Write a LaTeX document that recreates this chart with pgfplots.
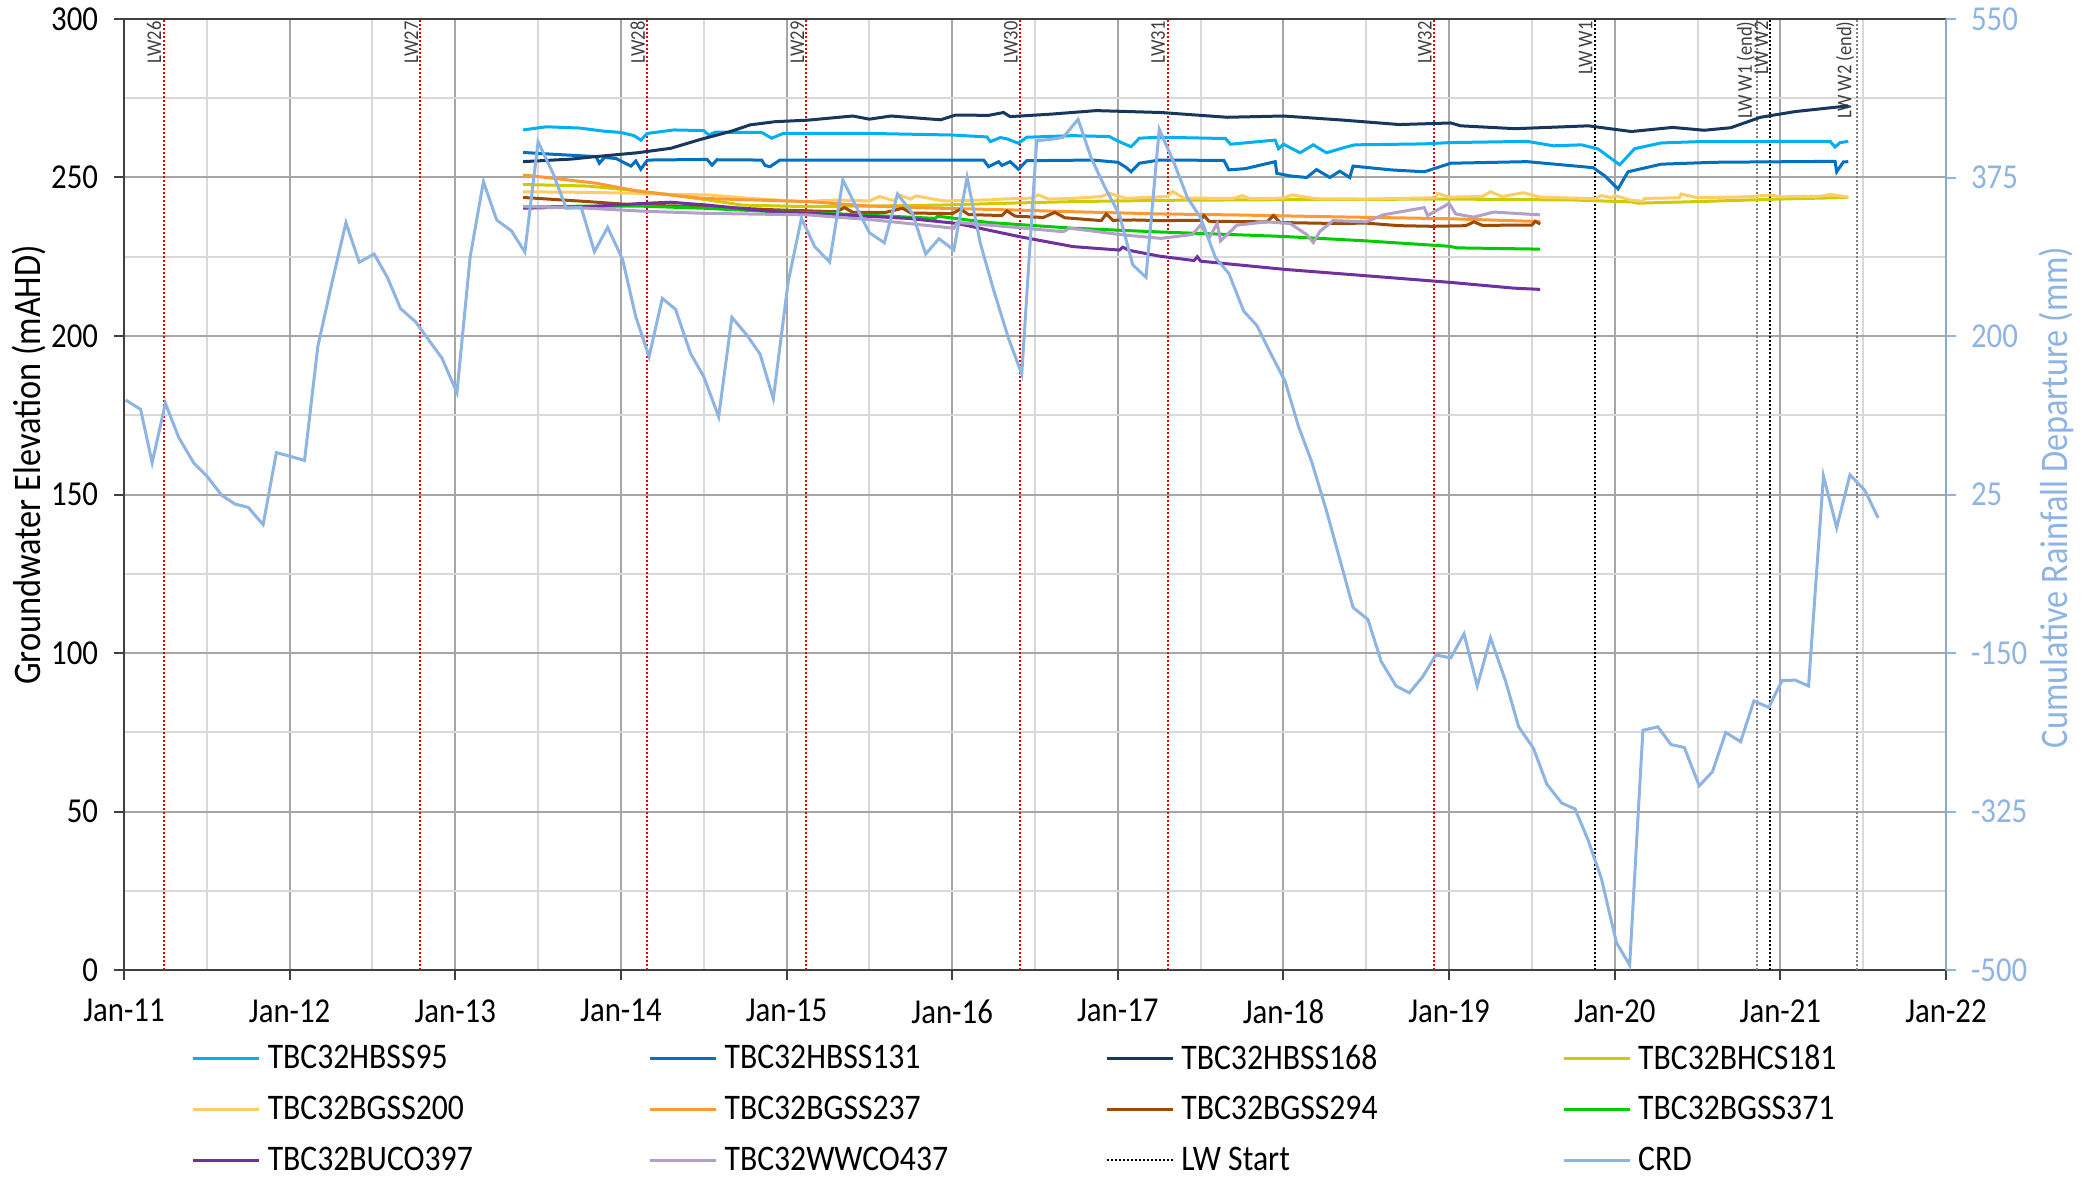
\documentclass[border=0pt]{standalone}
\usepackage{fontspec}
\setmainfont{Carlito}[FakeStretch=0.88]
\usepackage{pgfplots}
\pgfplotsset{compat=1.18}
\definecolor{cHBSSa}{HTML}{00B0F0}
\definecolor{cHBSSb}{HTML}{0070C0}
\definecolor{cHBSSc}{HTML}{17375E}
\definecolor{cBHCS}{HTML}{CCCC00}
\definecolor{cBGSSa}{HTML}{FFCC66}
\definecolor{cBGSSb}{HTML}{FF9933}
\definecolor{cBGSSc}{HTML}{9C4A06}
\definecolor{cBGSSd}{HTML}{00CC00}
\definecolor{cBUCO}{HTML}{7030A0}
\definecolor{cWWCO}{HTML}{B1A0C7}
\definecolor{crd}{HTML}{8DB4E2}
\definecolor{gridmaj}{HTML}{A6A6A6}
\definecolor{gridmin}{HTML}{D9D9D9}
\definecolor{axisdark}{HTML}{404040}
\definecolor{rightax}{HTML}{8EA9C8}
\definecolor{lwred}{HTML}{E00000}
\newcommand{\legtxt}[1]{\makebox[188.4pt][l]{#1}}
\begin{document}
\begin{tikzpicture}
\begin{axis}[
  at={(0,0)}, anchor=south west,
  scale only axis, width=911pt, height=475.5pt,
  xmin=2011, xmax=2022, ymin=0, ymax=300,
  xtick={2011,2012,2013,2014,2015,2016,2017,2018,2019,2020,2021,2022},
  xticklabels={Jan-11,Jan-12,Jan-13,Jan-14,Jan-15,Jan-16,Jan-17,Jan-18,Jan-19,Jan-20,Jan-21,Jan-22},
  minor xtick={2011.5,2012.5,2013.5,2014.5,2015.5,2016.5,2017.5,2018.5,2019.5,2020.5,2021.5},
  ytick={0,50,100,150,200,250,300},
  minor ytick={25,75,125,175,225,275},
  grid=both,
  major grid style={draw=gridmaj, line width=1pt},
  minor grid style={draw=gridmin, line width=1pt},
  tick align=outside, tick pos=left,
  major tick length=5pt, minor tick length=0pt,
  every tick/.style={draw=axisdark, line width=1pt},
  axis line style={draw=axisdark, line width=1.2pt},
  /pgf/number format/assume math mode=true,
  ticklabel style={font=\fontsize{17.5}{20}\selectfont, text=black},
  yticklabel style={xshift=-4.5pt},
  xticklabel style={yshift=-6.2pt},
  ylabel={Groundwater Elevation (mAHD)},
  ylabel style={at={(axis description cs:-0.0521,0.531)}, anchor=center, font=\fontsize{19.5}{22}\selectfont, text=black},
  legend columns=4,
  legend image code/.code={\draw[#1] (0pt,0pt) -- (33pt,0pt);},
  legend style={at={(axis description cs:0.0370,-0.0741)}, anchor=north west,
    draw=none, fill=none, inner sep=0pt,
    font=\fontsize{18}{20}\selectfont, row sep=8pt,
    /tikz/every odd column/.append style={column sep=1.5pt},
    /tikz/every even column/.append style={column sep=0pt}},
  legend cell align=left,
]
% LW start lines
\addplot[forget plot, lwred, line width=1pt, dash pattern=on 1pt off 1pt] coordinates {(2011.24,0) (2011.24,300)};
\addplot[forget plot, lwred, line width=1pt, dash pattern=on 1pt off 1pt] coordinates {(2012.79,0) (2012.79,300)};
\addplot[forget plot, lwred, line width=1pt, dash pattern=on 1pt off 1pt] coordinates {(2014.16,0) (2014.16,300)};
\addplot[forget plot, lwred, line width=1pt, dash pattern=on 1pt off 1pt] coordinates {(2015.12,0) (2015.12,300)};
\addplot[forget plot, lwred, line width=1pt, dash pattern=on 1pt off 1pt] coordinates {(2016.41,0) (2016.41,300)};
\addplot[forget plot, lwred, line width=1pt, dash pattern=on 1pt off 1pt] coordinates {(2017.30,0) (2017.30,300)};
\addplot[forget plot, lwred, line width=1pt, dash pattern=on 1pt off 1pt] coordinates {(2018.91,0) (2018.91,300)};
\addplot[forget plot, black, line width=1pt, dash pattern=on 1pt off 1pt] coordinates {(2019.88,0) (2019.88,300)};
\addplot[forget plot, gray, line width=1pt, dash pattern=on 1pt off 1pt] coordinates {(2020.86,0) (2020.86,300)};
\addplot[forget plot, black, line width=1pt, dash pattern=on 1pt off 1pt] coordinates {(2020.94,0) (2020.94,300)};
\addplot[forget plot, gray, line width=1pt, dash pattern=on 1pt off 1pt] coordinates {(2021.46,0) (2021.46,300)};
\begin{scope}[every node/.style={rotate=90, anchor=south east, inner sep=1pt, font=\fontsize{10.5}{12}\selectfont, text=axisdark}]
\node at (axis cs:2011.24,300) {LW26};
\node at (axis cs:2012.79,300) {LW27};
\node at (axis cs:2014.16,300) {LW28};
\node at (axis cs:2015.12,300) {LW29};
\node at (axis cs:2016.41,300) {LW30};
\node at (axis cs:2017.30,300) {LW31};
\node at (axis cs:2018.91,300) {LW32};
\node at (axis cs:2019.88,300) {LW W1};
\node at (axis cs:2020.86,300) {LW W1 (end)};
\node at (axis cs:2020.94,300) {LW W2};
\node at (axis cs:2021.46,300) {LW W2 (end)};
\end{scope}
% TBC32HBSS95
\addplot[cHBSSa, line width=1.5pt] coordinates {
(2013.41,265.0) (2013.55,266.0) (2013.75,265.6) (2013.90,264.6) (2014.00,264.2) (2014.08,263.2) (2014.12,261.8) (2014.16,263.9) (2014.32,265.0) (2014.50,264.8) (2014.53,263.4) (2014.57,264.3) (2014.85,264.2) (2014.91,262.4) (2014.98,263.9) (2015.50,263.9) (2016.00,263.4) (2016.21,262.8) (2016.23,261.3) (2016.29,262.6) (2016.33,262.2) (2016.40,260.8) (2016.45,262.7) (2016.73,263.2) (2016.95,262.9) (2017.00,261.5) (2017.08,259.7) (2017.13,262.4) (2017.25,262.7) (2017.65,262.3) (2017.68,260.5) (2017.95,261.8) (2017.97,259.1) (2018.00,260.5) (2018.10,257.8) (2018.18,260.3) (2018.26,257.8) (2018.37,259.5) (2018.43,260.3) (2018.85,260.6) (2019.00,261.0) (2019.47,261.4) (2019.63,260.0) (2019.80,260.3) (2019.90,259.0) (2020.03,254.0) (2020.12,259.1) (2020.28,260.9) (2020.50,261.3) (2021.30,261.4) (2021.33,259.6) (2021.36,261.0) (2021.41,261.4)};
\addlegendentry{\legtxt{TBC32HBSS95}}
% TBC32HBSS131
\addplot[cHBSSb, line width=1.5pt] coordinates {
(2013.41,257.9) (2013.60,257.3) (2013.85,256.6) (2013.87,254.5) (2013.90,256.3) (2013.97,256.0) (2014.06,253.6) (2014.09,255.2) (2014.12,252.6) (2014.16,255.5) (2014.52,255.7) (2014.55,253.9) (2014.58,255.6) (2014.85,255.5) (2014.87,253.8) (2014.90,253.4) (2014.96,255.5) (2016.19,255.5) (2016.22,253.4) (2016.28,255.0) (2016.30,253.8) (2016.35,255.0) (2016.40,252.6) (2016.45,255.3) (2016.85,255.5) (2017.00,254.8) (2017.05,253.2) (2017.08,251.8) (2017.13,254.5) (2017.25,255.5) (2017.64,255.4) (2017.67,252.4) (2017.77,252.8) (2017.95,255.0) (2017.96,251.3) (2018.04,250.5) (2018.14,250.0) (2018.20,252.5) (2018.28,250.0) (2018.34,252.0) (2018.40,250.0) (2018.42,253.6) (2018.65,252.4) (2018.85,251.8) (2019.01,254.5) (2019.47,255.0) (2019.87,253.1) (2019.94,250.5) (2020.02,246.4) (2020.08,251.8) (2020.28,254.2) (2020.60,254.8) (2021.33,255.1) (2021.34,251.8) (2021.38,254.9) (2021.41,255.0)};
\addlegendentry{\legtxt{TBC32HBSS131}}
% TBC32HBSS168
\addplot[cHBSSc, line width=1.5pt] coordinates {
(2013.41,255.0) (2013.70,255.8) (2013.85,256.6) (2014.10,257.8) (2014.30,259.2) (2014.48,262.0) (2014.66,264.5) (2014.78,266.6) (2014.93,267.6) (2015.13,268.1) (2015.40,269.4) (2015.50,268.4) (2015.63,269.4) (2015.93,268.2) (2016.02,269.7) (2016.22,269.6) (2016.31,270.5) (2016.35,269.2) (2016.60,270.0) (2016.87,271.1) (2017.26,270.5) (2017.66,269.0) (2018.00,269.4) (2018.36,268.1) (2018.70,266.7) (2019.01,267.2) (2019.07,266.3) (2019.40,265.4) (2019.84,266.3) (2020.10,264.5) (2020.35,265.8) (2020.54,264.9) (2020.70,265.7) (2020.88,269.0) (2021.09,270.8) (2021.41,272.6)};
\addlegendentry{\legtxt{TBC32HBSS168}}
% TBC32BHCS181
\addplot[cBHCS, line width=1.5pt] coordinates {
(2013.41,247.8) (2013.80,247.3) (2014.10,245.8) (2014.30,244.5) (2014.53,242.9) (2014.73,241.3) (2015.13,240.8) (2015.50,241.0) (2015.93,241.3) (2016.34,241.9) (2016.74,242.4) (2017.26,242.8) (2018.00,243.0) (2019.00,243.2) (2019.75,242.9) (2020.10,242.3) (2020.14,241.9) (2020.50,242.4) (2021.00,243.2) (2021.41,243.7)};
\addlegendentry{\legtxt{TBC32BHCS181}}
% TBC32BGSS200
\addplot[cBGSSa, line width=1.5pt] coordinates {
(2013.41,245.5) (2013.80,245.3) (2014.12,245.0) (2014.30,244.7) (2014.53,244.5) (2014.78,243.4) (2015.10,242.4) (2015.30,242.9) (2015.50,242.6) (2015.56,244.0) (2015.65,242.7) (2015.68,244.5) (2015.75,243.2) (2015.78,244.2) (2015.95,242.6) (2016.25,243.0) (2016.30,243.2) (2016.48,243.5) (2016.52,244.5) (2016.58,243.2) (2016.73,243.4) (2016.90,244.0) (2016.95,245.0) (2017.05,243.4) (2017.30,244.0) (2017.33,245.6) (2017.40,243.5) (2017.70,243.4) (2017.75,244.3) (2017.80,243.3) (2018.00,243.5) (2018.05,244.5) (2018.20,243.3) (2018.50,243.2) (2018.92,243.6) (2018.93,245.0) (2019.00,243.8) (2019.20,244.0) (2019.25,245.5) (2019.32,244.0) (2019.45,245.2) (2019.55,243.8) (2019.88,243.3) (2019.92,244.3) (2019.98,243.6) (2020.00,244.3) (2020.10,242.8) (2020.17,242.5) (2020.18,243.4) (2020.39,243.6) (2020.40,244.8) (2020.50,243.6) (2020.80,243.9) (2020.94,244.5) (2021.00,243.9) (2021.25,244.1) (2021.30,244.7) (2021.41,243.8)};
\addlegendentry{\legtxt{TBC32BGSS200}}
% TBC32BGSS237
\addplot[cBGSSb, line width=1.5pt] coordinates {
(2013.41,250.8) (2013.60,249.7) (2013.85,248.2) (2014.10,245.7) (2014.30,244.5) (2014.50,243.4) (2014.80,242.9) (2015.13,242.4) (2015.50,241.0) (2015.93,240.3) (2016.33,239.8) (2016.73,239.2) (2017.26,238.5) (2017.70,238.2) (2018.30,237.6) (2019.00,237.0) (2019.55,236.1)};
\addlegendentry{\legtxt{TBC32BGSS237}}
% TBC32BGSS294
\addplot[cBGSSc, line width=1.5pt] coordinates {
(2013.41,243.7) (2013.80,242.4) (2014.10,241.3) (2014.50,240.8) (2014.93,239.8) (2015.30,239.2) (2015.35,240.5) (2015.40,239.0) (2015.60,239.0) (2015.70,240.3) (2015.75,238.8) (2016.00,238.6) (2016.05,240.0) (2016.10,238.3) (2016.30,238.0) (2016.33,239.5) (2016.38,237.8) (2016.55,237.4) (2016.62,239.0) (2016.68,237.3) (2016.90,236.4) (2016.93,238.5) (2016.97,236.5) (2017.10,236.6) (2017.26,236.4) (2017.50,236.5) (2017.52,238.0) (2017.55,236.2) (2017.90,236.0) (2017.94,238.0) (2017.98,235.8) (2018.30,235.5) (2018.50,235.6) (2018.70,234.8) (2018.90,234.6) (2019.10,234.8) (2019.15,236.0) (2019.20,234.9) (2019.50,235.0) (2019.52,236.2) (2019.55,235.3)};
\addlegendentry{\legtxt{TBC32BGSS294}}
% TBC32BGSS371
\addplot[cBGSSd, line width=1.5pt] coordinates {
(2013.41,240.6) (2013.80,241.0) (2014.10,241.0) (2014.50,240.3) (2014.93,239.2) (2015.25,238.7) (2015.90,237.1) (2015.91,237.8) (2016.22,235.8) (2016.73,234.0) (2017.26,232.8) (2018.00,231.4) (2018.50,230.0) (2019.00,228.3) (2019.05,227.8) (2019.55,227.4)};
\addlegendentry{\legtxt{TBC32BGSS371}}
% TBC32BUCO397
\addplot[cBUCO, line width=1.5pt] coordinates {
(2013.41,240.3) (2013.80,240.8) (2014.12,241.8) (2014.30,242.2) (2014.52,241.3) (2014.93,239.2) (2015.33,238.2) (2015.73,237.1) (2016.03,235.5) (2016.41,231.3) (2016.73,228.2) (2017.01,227.1) (2017.03,228.0) (2017.07,227.0) (2017.25,225.2) (2017.46,223.8) (2017.48,225.0) (2017.50,223.6) (2018.01,221.0) (2018.50,219.0) (2019.01,216.9) (2019.39,215.1) (2019.55,214.7)};
\addlegendentry{\legtxt{TBC32BUCO397}}
% TBC32WWCO437
\addplot[cWWCO, line width=1.5pt] coordinates {
(2013.41,240.8) (2013.80,240.3) (2014.12,239.4) (2014.50,238.7) (2015.13,238.2) (2015.53,236.6) (2016.01,234.0) (2016.03,235.8) (2016.33,234.5) (2016.67,232.9) (2016.71,234.0) (2017.03,231.9) (2017.26,230.8) (2017.45,232.0) (2017.50,235.0) (2017.55,230.8) (2017.60,235.5) (2017.62,230.0) (2017.72,235.0) (2017.90,236.0) (2018.04,235.5) (2018.14,232.0) (2018.18,229.5) (2018.22,233.0) (2018.30,236.4) (2018.50,236.0) (2018.60,238.2) (2018.85,240.5) (2018.87,238.0) (2019.00,241.8) (2019.04,238.5) (2019.15,237.5) (2019.27,239.1) (2019.55,238.2)};
\addlegendentry{\legtxt{TBC32WWCO437}}
\addlegendimage{black, line width=1pt, dash pattern=on 1pt off 1pt}
\addlegendentry{\legtxt{LW Start}}
\addlegendimage{crd, line width=1.5pt}
\addlegendentry{\legtxt{CRD}}
\end{axis}
\begin{axis}[
  at={(0,0)}, anchor=south west,
  scale only axis, width=911pt, height=475.5pt,
  xmin=2011, xmax=2022, ymin=-500, ymax=550,
  axis x line=none, axis y line*=right,
  ytick={-500,-325,-150,25,200,375,550},
  tick align=outside, major tick length=5pt,
  every tick/.style={draw=crd, line width=1pt},
  y axis line style={draw=rightax, line width=1.2pt},
  /pgf/number format/assume math mode=true,
  yticklabel style={font=\fontsize{17.5}{20}\selectfont, text=crd, xshift=4pt},
  ylabel={Cumulative Rainfall Departure (mm)},
  ylabel style={at={(axis description cs:1.0604,0.497)}, anchor=center, rotate=0, font=\fontsize{19.5}{22}\selectfont, text=crd},
]
\addplot[crd, line width=1.5pt] coordinates {
(2011.01,129.3) (2011.10,119.1) (2011.17,60.1) (2011.25,125.7) (2011.33,88.1) (2011.42,60.1) (2011.50,45.4) (2011.59,24.1) (2011.67,14.5) (2011.75,10.8) (2011.84,-8.3) (2011.92,71.2)
(2012.01,66.8) (2012.09,62.6) (2012.17,188.2) (2012.25,254.4) (2012.34,325.1) (2012.42,281.4) (2012.51,290.5) (2012.59,264.8) (2012.67,230.2) (2012.76,215.8) (2012.84,195.6) (2012.92,175.4)
(2013.01,137.4) (2013.09,287.6) (2013.17,370.4) (2013.25,328.1) (2013.34,315.9) (2013.42,292.7) (2013.50,414.5) (2013.59,379.6) (2013.67,341.0) (2013.76,342.1) (2013.84,293.1) (2013.92,320.0)
(2014.01,284.7) (2014.09,221.0) (2014.17,177.2) (2014.25,241.6) (2014.33,229.4) (2014.42,180.9) (2014.50,155.1) (2014.59,110.9) (2014.67,220.6) (2014.76,201.1) (2014.84,180.1) (2014.92,130.7)
(2015.01,260.0) (2015.09,330.0) (2015.17,298.6) (2015.26,281.7) (2015.34,372.2) (2015.42,342.8) (2015.50,314.0) (2015.59,303.0) (2015.67,356.8) (2015.76,335.4) (2015.84,290.5) (2015.92,307.4)
(2016.01,295.0) (2016.09,375.2) (2016.17,302.3) (2016.25,250.8) (2016.34,197.4) (2016.42,158.0) (2016.51,415.6) (2016.59,417.0) (2016.67,419.3) (2016.76,439.2) (2016.84,396.2) (2016.92,364.9)
(2017.01,333.6) (2017.09,278.6) (2017.17,264.8) (2017.25,428.2) (2017.34,390.9) (2017.42,352.8) (2017.50,330.6) (2017.59,286.3) (2017.67,269.2) (2017.76,227.4) (2017.84,211.5) (2017.92,181.7)
(2018.01,150.0) (2018.09,100.6) (2018.17,61.3) (2018.26,6.8) (2018.34,-46.4) (2018.42,-99.7) (2018.51,-113.0) (2018.59,-159.3) (2018.68,-186.4) (2018.76,-194.0) (2018.84,-176.3) (2018.92,-152.2)
(2019.01,-155.4) (2019.09,-128.8) (2019.17,-186.4) (2019.25,-133.2) (2019.34,-180.4) (2019.42,-231.5) (2019.51,-255.5) (2019.59,-294.9) (2019.68,-315.7) (2019.76,-322.1) (2019.84,-356.9) (2019.92,-399.4)
(2020.01,-469.7) (2020.09,-494.5) (2020.17,-235.3) (2020.26,-231.5) (2020.34,-251.1) (2020.42,-254.3) (2020.51,-296.7) (2020.59,-281.0) (2020.67,-237.8) (2020.76,-247.9) (2020.84,-203.0) (2020.93,-210.0)
(2021.01,-180.4) (2021.09,-180.0) (2021.17,-186.4) (2021.26,45.4) (2021.34,-11.6) (2021.42,46.7) (2021.51,29.6) (2021.59,-0.8)};
\end{axis}
\pgfresetboundingbox
\path[use as bounding box] (-62pt,-104pt) rectangle (986pt,485pt);
\end{tikzpicture}
\end{document}
